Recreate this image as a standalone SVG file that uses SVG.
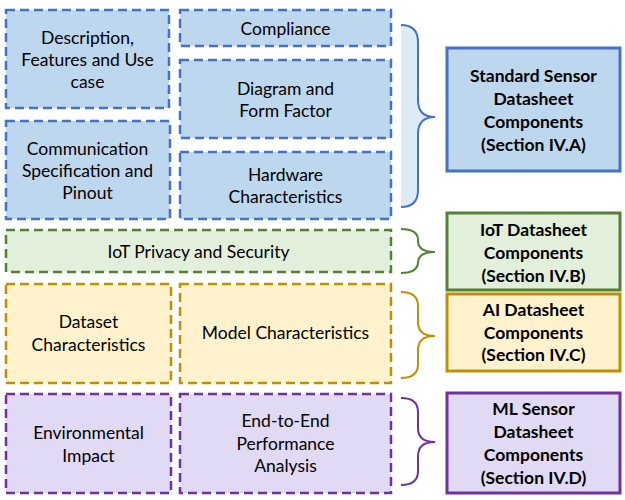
<svg xmlns="http://www.w3.org/2000/svg" width="625" height="500" viewBox="0 0 625 500">
<style>
text{font-family:Lato,"Open Sans","Liberation Sans",sans-serif;font-size:17.5px;fill:#000;text-anchor:middle}
.b{font-weight:bold}
.d{stroke-width:2.5;stroke-dasharray:9 5}
.s{stroke-width:3}
.blue{fill:#BDD7EE;stroke:#4472C4}
.green{fill:#E2EFDA;stroke:#548235}
.yellow{fill:#FFF2CC;stroke:#BF9000}
.purple{fill:#E0DAF4;stroke:#7030A0}
.br{fill:none;stroke-width:2}
</style>
<rect width="625" height="500" fill="#fff"/>
<g id="description"><rect class="blue d" x="6" y="10" width="163" height="98"/>
<text x="87.5" y="44">Description,</text><text x="87.5" y="66">Features and Use</text><text x="87.5" y="88">case</text></g>
<g id="compliance"><rect class="blue d" x="180" y="10" width="211" height="36"/>
<text x="285.5" y="35">Compliance</text></g>
<g id="diagram"><rect class="blue d" x="180" y="60" width="211" height="78"/>
<text x="285.5" y="95">Diagram and</text><text x="285.5" y="117">Form Factor</text></g>
<g id="communication"><rect class="blue d" x="6" y="121" width="164" height="98"/>
<text x="87.5" y="155">Communication</text><text x="87.5" y="177">Specification and</text><text x="87.5" y="199">Pinout</text></g>
<g id="hardware"><rect class="blue d" x="180" y="152" width="211" height="67"/>
<text x="285.5" y="181">Hardware</text><text x="285.5" y="203">Characteristics</text></g>
<g id="iot-privacy"><rect class="green d" x="6" y="230" width="385" height="42"/>
<text x="198.5" y="258">IoT Privacy and Security</text></g>
<g id="dataset"><rect class="yellow d" x="6" y="284" width="165" height="99"/>
<text x="88.5" y="328">Dataset</text><text x="88.5" y="351">Characteristics</text></g>
<g id="model"><rect class="yellow d" x="180" y="284" width="211" height="99"/>
<text x="285.5" y="339">Model Characteristics</text></g>
<g id="environmental"><rect class="purple d" x="6" y="394" width="165" height="99"/>
<text x="88.5" y="439">Environmental</text><text x="88.5" y="462">Impact</text></g>
<g id="end-to-end"><rect class="purple d" x="180" y="394" width="211" height="99"/>
<text x="285.5" y="427">End-to-End</text><text x="285.5" y="450">Performance</text><text x="285.5" y="472">Analysis</text></g>
<g id="connectors">
<path d="M401,25 Q418,25 418,42 L418,100 Q418,117 435,117 Q418,117 418,134 L418,190 Q418,207 401,207 Z" fill="#DEEBF7" stroke="none"/>
<path class="br" stroke="#4472C4" d="M401,25 Q418,25 418,42 L418,100 Q418,117 435,117 Q418,117 418,134 L418,190 Q418,207 401,207"/>
<path class="br" stroke="#548235" d="M401,229 Q418,229 418,240 L418,241 Q418,252 435,252 Q418,252 418,263 L418,262 Q418,273 401,273"/>
<path class="br" stroke="#BF9000" d="M401,292 Q418,292 418,306 L418,322 Q418,336 435,336 Q418,336 418,350 L418,364 Q418,378 401,378"/>
<path class="br" stroke="#7030A0" d="M401,398 Q418,398 418,412 L418,428 Q418,442 435,442 Q418,442 418,456 L418,471 Q418,485 401,485"/>
</g>
<g id="standard"><rect class="blue s" x="447" y="48" width="173" height="123"/>
<text class="b" x="533.5" y="82">Standard Sensor</text><text class="b" x="533.5" y="105">Datasheet</text><text class="b" x="533.5" y="128">Components</text><text class="b" x="533.5" y="151">(Section IV.A)</text></g>
<g id="iot"><rect class="green s" x="447" y="213" width="173" height="77"/>
<text class="b" x="533.5" y="236">IoT Datasheet</text><text class="b" x="533.5" y="259">Components</text><text class="b" x="533.5" y="282">(Section IV.B)</text></g>
<g id="ai"><rect class="yellow s" x="447" y="294" width="173" height="77"/>
<text class="b" x="533.5" y="316">AI Datasheet</text><text class="b" x="533.5" y="339">Components</text><text class="b" x="533.5" y="361">(Section IV.C)</text></g>
<g id="ml"><rect class="purple s" x="447" y="393" width="173" height="100"/>
<text class="b" x="533.5" y="415">ML Sensor</text><text class="b" x="533.5" y="438">Datasheet</text><text class="b" x="533.5" y="461">Components</text><text class="b" x="533.5" y="484">(Section IV.D)</text></g>
</svg>
